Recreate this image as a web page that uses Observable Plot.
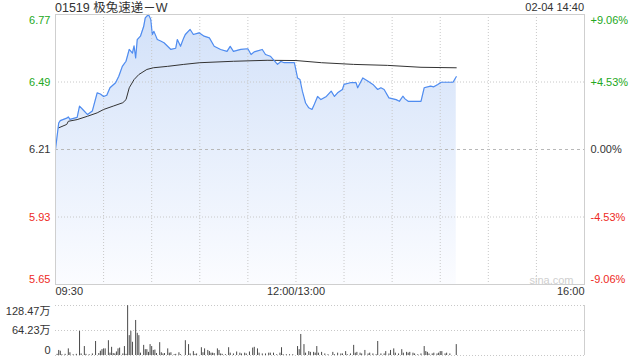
<!DOCTYPE html>
<html><head><meta charset="utf-8">
<script src="https://cdn.jsdelivr.net/npm/d3@7"></script>
<script src="https://cdn.jsdelivr.net/npm/@observablehq/plot@0.6"></script>
<style>
body{margin:0;background:#fff;}
#wrap{position:relative;width:640px;height:360px;font-family:"Liberation Sans","Noto Sans CJK SC",sans-serif;overflow:hidden;}
#wrap svg{position:absolute;left:0;background:transparent;}
.t{position:absolute;color:#333;white-space:nowrap;line-height:1;}
</style></head><body>
<div id="wrap"></div>
<script>
// ---- data ----
const stockTitle = "01519 极兔速递－W";
const stampText = "02-04 14:40";
const preClose = 6.21;
const priceTicks = [6.77, 6.49, 6.21, 5.93, 5.65];
const pctLabels = ["+9.06%", "+4.53%", "0.00%", "-4.53%", "-9.06%"];
const timeTickMinutes = [0, 150, 330];
const timeLabels = ["09:30", "12:00/13:00", "16:00"];
const volTicks = [128.47, 64.23, 0];
const volLabels = ["128.47万", "64.23万", "0"];

// minutes since 09:30 (lunch break removed) and price
const priceMinutes = [0,2,3,7,8,9,13.5,15,17,20,23,26,28,30,32,34,37.5,39.5,41.7,44,46,48,49,50,51,53,55,56,58,59.4,60.4,61.4,63.5,65.6,67.7,72,75,76,78,80,81,84,86,89.6,92.7,96,99,103,107,109,111,115.6,120,122,124,129,131,134,138.5,140.6,142.7,147,149,151,152.5,154,156,158,160,161,163.5,165.6,169,172,174,176,179,180,184,187.5,188.5,191.7,195,198,201,203,205,208,212.5,214.5,216.7,218,220,224,228,230,234,236,238.5,240.6,244.8,248,250];
const priceValues = [6.21,6.32,6.33,6.34,6.345,6.335,6.343,6.39,6.376,6.355,6.37,6.445,6.44,6.43,6.435,6.466,6.487,6.514,6.555,6.576,6.625,6.61,6.64,6.59,6.666,6.68,6.72,6.756,6.77,6.75,6.687,6.70,6.666,6.66,6.653,6.625,6.63,6.666,6.638,6.673,6.687,6.708,6.687,6.694,6.68,6.673,6.638,6.625,6.617,6.638,6.617,6.625,6.628,6.604,6.615,6.625,6.604,6.597,6.563,6.575,6.57,6.57,6.57,6.507,6.50,6.452,6.403,6.383,6.376,6.39,6.43,6.417,6.43,6.452,6.43,6.445,6.459,6.48,6.487,6.487,6.466,6.507,6.493,6.48,6.459,6.466,6.459,6.424,6.417,6.41,6.431,6.42,6.41,6.41,6.41,6.466,6.473,6.47,6.48,6.489,6.489,6.489,6.512];

const avgMinutes = [2,7,8,13.5,20,26,30,36,42,44,46,49,52,57,61,70,80,90,111,132,150,166,186,207,228,250];
const avgValues = [6.30,6.314,6.327,6.334,6.348,6.362,6.376,6.39,6.404,6.417,6.466,6.50,6.521,6.542,6.549,6.555,6.563,6.57,6.576,6.58,6.579,6.57,6.563,6.559,6.551,6.549];

// volume (万股)
const volMinutes = [1,2,3,4,6,8,9,11,13,15,16,18,19,21,23,25,27,28,29,30,31,33,34,35,36,37,38,39,40,42,43,44,45,46,47,48,50,51,52,53,55,56,57,58,59,60,61,62,63,65,66,67,68,70,71,72,74,75,77,78,81,83,84,86,87,88,91,92,93,95,96,97,98,99,101,102,103,104,106,108,109,111,113,115,116,118,119,121,123,124,126,127,129,131,133,134,136,138,140,141,142,144,146,148,151,152,153,155,156,158,159,161,162,163,164,166,168,170,173,174,176,178,179,181,182,184,186,187,188,190,191,193,195,196,198,200,201,203,205,206,208,209,211,212,214,216,217,219,220,221,223,224,226,228,230,231,232,233,235,236,238,239,240,241,243,244,246,250];
const volValues = [3,13,11,2,3,17,7,2,3,62,4,23,3,2,4,36,5,11,15,17,17,38,6,21,5,4,9,17,19,4,23,3,128,51,62,34,90,57,51,6,26,15,15,8,28,23,13,14,5,33,7,4,5,17,6,7,2,3,7,2,38,28,4,10,3,4,20,7,17,13,10,6,6,5,17,13,4,3,2,20,6,4,9,6,4,6,4,9,19,21,17,6,4,4,6,6,6,2,6,20,2,2,2,2,23,15,54,28,6,10,8,8,6,23,6,8,4,2,8,2,6,4,4,10,2,4,26,6,8,6,4,13,4,6,4,2,36,4,4,10,4,13,17,6,4,15,6,8,6,8,6,4,2,4,23,10,8,4,4,6,4,6,10,10,4,6,4,28];

// ---- build ----
const GREEN = "#22a822", RED = "#ee2a24", DARK = "#333";
const FONT = '"Liberation Sans","Noto Sans CJK SC",sans-serif';
const priceColor = d => d > preClose ? GREEN : d < preClose ? RED : DARK;
const priceData = priceMinutes.map((m, i) => ({m, p: priceValues[i]}));
const avgData = avgMinutes.map((m, i) => ({m, p: avgValues[i]}));
const volData = volMinutes.map((m, i) => ({m, v: volValues[i]}));
const pMax = d3.max(priceTicks), pMin = d3.min(priceTicks);
const gridMinutes = d3.range(30, 330, 30);

function sideLabels(ticks, fmt, anchor, colorFn) {
  const marks = [];
  const vmax = d3.max(ticks), vmin = d3.min(ticks);
  for (const t of ticks) {
    const dy = t === vmax ? 6 : t === vmin ? -5 : 0;
    marks.push(Plot.axisY([t], {anchor, label: null, tickSize: 0, tickPadding: anchor === "left" ? 5 : 6,
      tickFormat: () => fmt(t), fill: colorFn(t), dy, fontSize: 11}));
  }
  return marks;
}

const priceMarks = [
  Plot.areaY(priceData, {x: "m", y1: pMin, y2: "p", fill: "url(#areaGrad)", curve: "linear"}),
  Plot.ruleY(priceTicks.filter(t => t !== pMax && t !== pMin && t !== preClose), {stroke: "#c8c8c8", strokeDasharray: "1,2"}),
  Plot.ruleY([preClose], {stroke: "#b8b8b8", strokeDasharray: "3,3"}),
  Plot.ruleX(gridMinutes, {stroke: "#c8c8c8", strokeDasharray: "1,2"}),
  Plot.line(avgData, {x: "m", y: "p", stroke: "#333", strokeWidth: 1}),
  Plot.line(priceData, {x: "m", y: "p", stroke: "#4f8cf0", strokeWidth: 1.2}),
  Plot.frame({stroke: "#cfcfcf"}),
  ...sideLabels(priceTicks, t => t.toFixed(2), "left", priceColor),
  ...sideLabels(priceTicks, t => pctLabels[priceTicks.indexOf(t)], "right", priceColor),
  ...timeTickMinutes.map((m, i) => Plot.axisX([m], {anchor: "bottom", label: null, tickSize: 0, tickPadding: 3,
    tickFormat: () => timeLabels[i], textAnchor: ["start", "middle", "end"][i], fill: DARK, fontSize: 11})),
  Plot.text(["sina.com"], {frameAnchor: "bottom-right", dx: -11, dy: -1, fill: "#cfcfcf", fontSize: 11})
];

const pricePlot = Plot.plot({
  width: 640, height: 300,
  marginLeft: 55, marginRight: 56, marginTop: 14, marginBottom: 16,
  style: {background: "transparent", fontFamily: FONT, fontSize: "11px", color: DARK},
  x: {domain: [0, 330], axis: null, label: null},
  y: {domain: [pMin, pMax], axis: null, label: null},
  marks: priceMarks
});
pricePlot.insertAdjacentHTML("afterbegin",
  '<defs><linearGradient id="areaGrad" x1="0" x2="0" y1="0" y2="1">' +
  '<stop offset="0%" stop-color="#d2e1f9"/><stop offset="100%" stop-color="#fbfcff"/></linearGradient></defs>');
pricePlot.style.top = "0px";

const volPlot = Plot.plot({
  width: 640, height: 60,
  marginLeft: 55, marginRight: 56, marginTop: 5, marginBottom: 5,
  style: {background: "transparent", fontFamily: FONT, fontSize: "11px", color: DARK},
  x: {domain: [0, 330], axis: null, label: null},
  y: {domain: [0, d3.max(volTicks)], axis: null, label: null},
  marks: [
    Plot.ruleY(volTicks, {stroke: "#c8c8c8", strokeDasharray: "1,2"}),
    Plot.ruleX([330], {stroke: "#cfcfcf"}),
    Plot.ruleX(volData, {x: "m", y1: 0, y2: "v", stroke: "#4a4a4a", strokeWidth: 1}),
    ...sideLabels(volTicks, t => volLabels[volTicks.indexOf(t)], "left", () => DARK)
  ]
});
volPlot.style.top = "300px";

const wrap = document.getElementById("wrap");
wrap.appendChild(pricePlot);
wrap.appendChild(volPlot);

const title = document.createElement("div");
title.className = "t";
title.textContent = stockTitle;
title.style.cssText += "left:55px;top:2px;font-size:12.5px;";
wrap.appendChild(title);

const stamp = document.createElement("div");
stamp.className = "t";
stamp.textContent = stampText;
stamp.style.cssText += "right:56px;top:2px;font-size:11px;";
wrap.appendChild(stamp);
</script>
</body></html>
